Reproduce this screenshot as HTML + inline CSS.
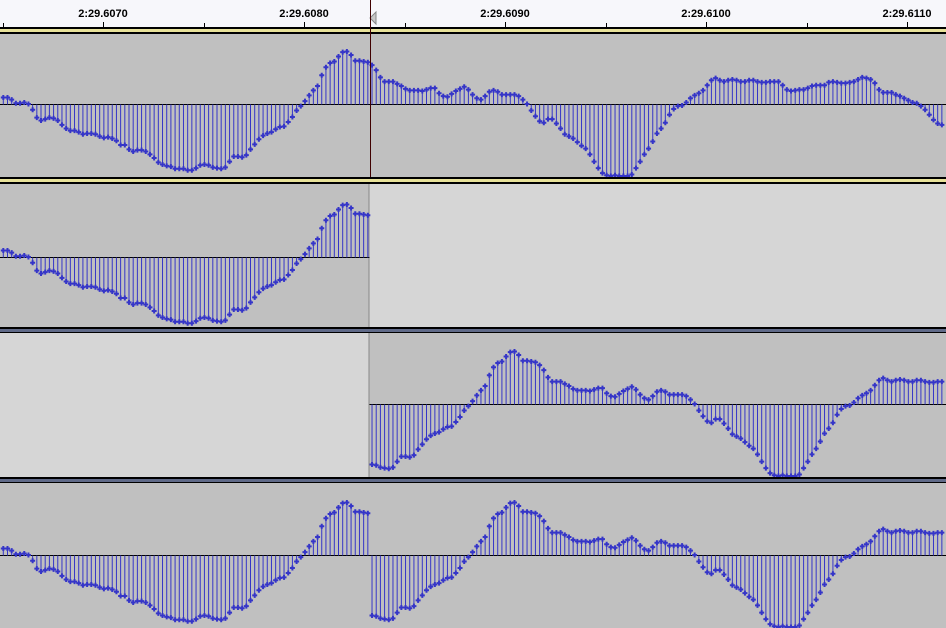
<!DOCTYPE html>
<html><head><meta charset="utf-8"><style>
html,body{margin:0;padding:0;background:#c0c0c0;}
svg{display:block;font-family:"Liberation Sans",sans-serif;}
</style></head><body>
<svg id="chart" width="946" height="628" xmlns="http://www.w3.org/2000/svg"></svg>
<script>
// sample amplitudes of original track (-1..1), 48kHz
const samples = [
.09,.09,.06,.01,.01,.02,0,-.08,-.19,-.23,
-.21,-.19,-.2,-.23,-.29,-.34,-.37,-.37,-.39,-.42,
-.41,-.41,-.42,-.45,-.47,-.46,-.48,-.51,-.57,-.57,
-.63,-.66,-.64,-.64,-.66,-.7,-.75,-.81,-.84,-.86,
-.87,-.9,-.9,-.9,-.92,-.92,-.89,-.85,-.84,-.85,
-.88,-.89,-.9,-.88,-.8,-.73,-.73,-.74,-.71,-.63,
-.56,-.49,-.44,-.41,-.39,-.35,-.32,-.31,-.25,-.18,
-.09,-.03,.04,.12,.19,.25,.4,.51,.57,.59,
.66,.72,.73,.68,.6,.6,.59,.58,.54,.47,
.37,.31,.31,.31,.28,.25,.21,.19,.19,.19,
.18,.2,.22,.22,.15,.11,.1,.14,.18,.21,
.24,.2,.13,.08,.06,
.11,.17,.19,.17,.13,.13,.13,.13,.11,.06,
0,-.09,-.17,-.24,-.26,-.21,-.21,-.27,-.34,-.42,
-.45,-.48,-.53,-.58,-.62,-.7,-.8,-.89,-.96,-.99,
-1,-.99,-1,-1,-1,-.98,-.89,-.8,-.7,-.62,
-.52,-.41,-.34,-.26,-.15,-.07,-.03,-.02,.02,.08,
.12,.15,.19,.26,.33,.36,.33,.31,.33,.34,
.33,.31,.31,.33,.33,.31,.3,.3,.31,.31,
.31,.26,.2,.18,.19,.2,.2,.22,.25,.26,
.26,.26,.3,.31,.3,.29,.29,.3,.31,.34,
.37,.36,.34,.29,.2,.16,.16,.16,.13,.11,
.08,.05,.02,.01,-.03,-.08,-.15,-.22,-.27,-.29
];
const tickLabels = ["2:29.6070","2:29.6080","2:29.6090","2:29.6100","2:29.6110"];
const splitIndex = 88;   // clip boundary (sample index)
const shift = 40;        // track 3 offset in samples

const NS="http://www.w3.org/2000/svg";
const svg=document.getElementById('chart');
function el(t,a,p){const e=document.createElementNS(NS,t);for(const k in a)e.setAttribute(k,a[k]);(p||svg).appendChild(e);return e;}
const x0=3.3, dx=4.19, amp=72;
const xOf=i=>x0+dx*i;
const xSplit=369.5;

// ruler
const ruler=el('g',{});


el('rect',{x:0,y:0,width:946,height:28,fill:'#f7f7fb'},ruler);
el('rect',{x:0,y:27,width:946,height:1,fill:'#000'},ruler);
tickLabels.forEach((t,k)=>{
  const x=103+201*k;
  el('rect',{x:x,y:22,width:1,height:5,fill:'#000'},ruler);
  el('rect',{x:x-100,y:23,width:1,height:4,fill:'#000'},ruler);
  const tx=el('text',{x:x,y:17,'font-size':11,'font-weight':'bold','text-anchor':'middle',fill:'#000'},ruler);
  tx.textContent=t;
  
  
});
const tri=el('polygon',{points:'376,12 370,18 376,24',fill:'#c8c8c8',stroke:'#888'},ruler);



// tracks
const tracks=[
 {top:34,bot:177,cy:104,sep:'#e6e0a0',get:i=>samples[i],from:0,to:samples.length-1,name:'track-1',empty:null},
 {top:184,bot:327,cy:257,sep:'#5f6a8a',get:i=>samples[i],from:0,to:splitIndex-1,name:'track-2',empty:[xSplit,946]},
 {top:333,bot:477,cy:404,sep:'#5f6a8a',get:i=>samples[i-shift],from:splitIndex,to:samples.length-1,name:'track-3',empty:[0,xSplit]},
 {top:483,bot:628,cy:555,sep:null,get:i=>i<splitIndex?samples[i]:samples[i-shift],from:0,to:samples.length-1,name:'track-4',empty:null}
];
// separators
el('rect',{x:0,y:28,width:946,height:6,fill:'#000'});
el('rect',{x:0,y:29,width:946,height:3,fill:'#e8e29a'});
el('rect',{x:0,y:177,width:946,height:7,fill:'#000'});
el('rect',{x:0,y:179,width:946,height:3,fill:'#e8e29a'});
el('rect',{x:0,y:327,width:946,height:6,fill:'#000'});
el('rect',{x:0,y:329,width:946,height:3,fill:'#606a88'});
el('rect',{x:0,y:477,width:946,height:6,fill:'#000'});
el('rect',{x:0,y:479,width:946,height:3,fill:'#606a88'});

tracks.forEach(T=>{
  const g=el('g',{});
  
  
  el('rect',{x:0,y:T.top,width:946,height:T.bot-T.top,fill:'#c0c0c0'},g);
  if(T.empty){
    el('rect',{x:T.empty[0],y:T.top,width:T.empty[1]-T.empty[0],height:T.bot-T.top,fill:'#d6d6d6'},g);
    el('rect',{x:368.5,y:T.top,width:1,height:T.bot-T.top,fill:'#888'},g);
  }
  const zl0=T.empty&&T.empty[0]===0?xSplit:0, zl1=T.empty&&T.empty[0]>0?xSplit:946;
  el('rect',{x:zl0,y:T.cy,width:zl1-zl0,height:1,fill:'#000'},g);
  const clip=el('clipPath',{id:'c'+T.name},g);
  el('rect',{x:0,y:T.top,width:946,height:T.bot-T.top},clip);
  const s=el('g',{'clip-path':'url(#c'+T.name+')'},g);
  for(let i=T.from;i<=T.to;i++){
    const v=T.get(i); if(v===undefined) continue;
    const x=xOf(i), y=T.cy-v*amp;
    const st=el('line',{x1:x,y1:T.cy+0.5,x2:x,y2:y,stroke:'#3535c8','stroke-width':1},s);
    
    
    const m=el('path',{d:`M${x-2.5},${y}h5M${x},${y-2.5}v5`,stroke:'#3535c8','stroke-width':2},s);
    
    
  }
});
// cursor line
const cur=el('rect',{x:370,y:0,width:1,height:177,fill:'#400000'});


</script>
</body></html>
